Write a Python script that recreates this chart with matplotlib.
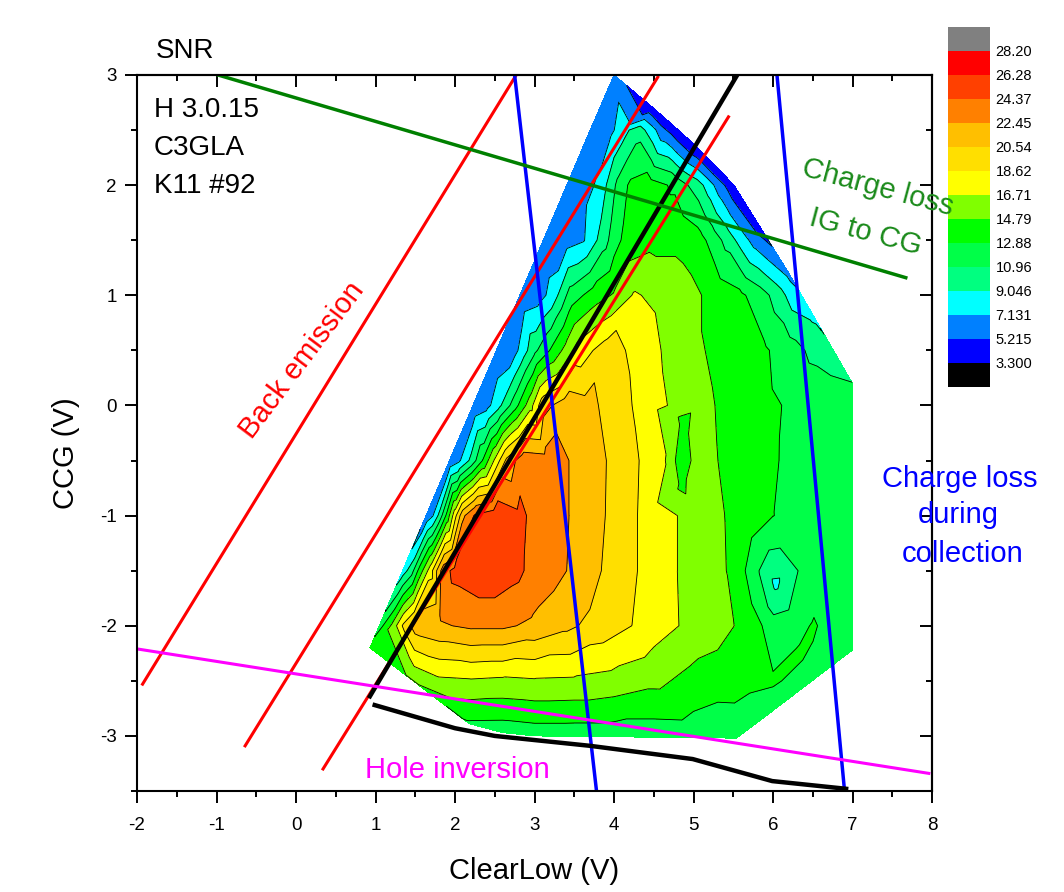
import matplotlib.pyplot as plt
import matplotlib.tri as mtri
from matplotlib.colors import ListedColormap, BoundaryNorm
from matplotlib.ticker import MultipleLocator

plt.rcParams['font.family'] = ['Liberation Sans', 'DejaVu Sans']
plt.rcParams['axes.unicode_minus'] = False

W, H = 1064, 892

# SNR map (CCG fixed per row)
ccg_rows = [2.5, 2.0, 1.5, 1.0, 0.5, 0.0, -0.5, -1.0, -1.5, -2.0, -2.5]
clearlow_rows = [
    [3.70, 3.95, 4.12, 4.30, 4.50, 4.62, 4.72, 4.81],
    [3.41, 3.60, 3.78, 3.90, 4.05, 4.20, 4.45, 4.75, 4.90, 5.05, 5.20, 5.33, 5.43, 5.51],
    [3.11, 3.40, 3.62, 3.75, 3.88, 4.00, 4.15, 4.50, 4.85, 5.10, 5.25, 5.42, 5.60, 5.78, 5.94],
    [2.82, 3.05, 3.22, 3.32, 3.45, 3.75, 4.00, 4.25, 4.60, 4.90, 5.30, 5.60, 5.85, 6.07, 6.25, 6.35],
    [2.52, 2.75, 2.85, 3.00, 3.20, 3.40, 3.55, 3.90, 4.35, 4.75, 5.00, 5.50, 5.90, 6.20, 6.50, 6.75],
    [2.23, 2.40, 2.55, 2.75, 2.95, 3.10, 3.40, 3.65, 4.00, 4.40, 4.80, 5.10, 5.50, 5.90, 6.30, 6.70, 7.00],
    [1.93, 2.05, 2.20, 2.35, 2.50, 2.65, 2.85, 3.15, 3.45, 3.75, 4.10, 4.40, 4.62, 4.83, 5.08, 5.40, 5.80, 6.20, 6.60, 7.00],
    [1.64, 1.72, 1.80, 1.90, 2.00, 2.10, 2.25, 2.50, 2.80, 3.10, 3.45, 3.90, 4.30, 4.80, 5.10, 5.39, 5.70, 6.00, 6.50, 7.00],
    [1.34, 1.45, 1.55, 1.70, 1.85, 2.00, 2.40, 2.75, 2.90, 3.15, 3.45, 3.85, 4.30, 4.80, 5.20, 5.45, 5.62, 5.78, 5.92, 6.15, 6.32, 6.60, 7.00],
    [1.05, 1.20, 1.35, 1.50, 1.80, 2.20, 2.60, 3.00, 3.40, 3.80, 4.23, 4.50, 4.82, 5.15, 5.51, 5.70, 5.86, 6.00, 6.30, 6.50, 6.70, 7.00],
    [1.48, 1.80, 2.20, 2.60, 3.00, 3.50, 4.00, 4.50, 5.00, 5.50, 6.00, 6.45],
]
snr_rows = [
    [5.8, 6.6, 8.3, 10.2, 7.6, 5.6, 4.6, 3.4],
    [5.7, 6.3, 7.3, 9.0, 11.5, 13.2, 13.7, 12.6, 11.2, 10.0, 8.0, 6.0, 4.7, 3.5],
    [5.7, 6.3, 7.0, 8.6, 10.2, 12.0, 13.5, 14.2, 14.2, 13.4, 12.0, 10.3, 8.2, 6.2, 4.9],
    [5.7, 6.3, 7.8, 9.5, 11.8, 13.8, 15.0, 16.9, 16.2, 15.6, 14.0, 13.2, 11.8, 10.0, 8.0, 7.4],
    [5.7, 6.5, 8.0, 10.5, 13.0, 15.5, 17.5, 19.6, 17.8, 16.0, 15.2, 13.8, 13.1, 11.9, 10.5, 10.0],
    [5.7, 6.5, 8.5, 12.0, 16.0, 19.8, 21.6, 21.2, 19.7, 17.8, 16.2, 15.3, 14.1, 13.3, 12.5, 12.1, 11.8],
    [5.7, 6.8, 9.5, 13.0, 17.0, 21.0, 23.6, 23.3, 22.4, 21.2, 19.7, 18.2, 17.1, 13.9, 15.5, 14.5, 13.5, 12.6, 12.3, 12.2],
    [5.8, 7.0, 9.5, 13.5, 18.0, 22.0, 24.6, 25.6, 24.8, 23.5, 22.4, 20.5, 18.6, 16.7, 15.7, 14.8, 13.8, 12.9, 12.3, 12.2],
    [8.0, 10.0, 13.5, 18.0, 23.5, 25.0, 25.9, 25.0, 24.2, 23.3, 22.3, 20.5, 18.6, 16.7, 15.3, 14.7, 13.2, 11.5, 9.8, 9.6, 11.0, 12.2, 12.2],
    [12.0, 15.0, 19.0, 21.5, 22.2, 22.8, 22.8, 22.0, 21.0, 19.8, 18.6, 17.6, 16.7, 15.8, 14.8, 13.8, 12.9, 11.8, 12.4, 13.0, 12.6, 12.3],
    [15.0, 16.3, 16.5, 16.3, 16.5, 16.4, 16.0, 15.3, 14.1, 13.5, 13.1, 12.2],
]

# points off the rows: hull corners, bottom edge, small islands
extra_clearlow = [4.00, 4.48, 5.04, 5.83, 6.20, 6.49, 7.00, 7.00, 0.93,
                  2.18, 2.60, 3.00, 3.50, 4.00, 4.50, 5.00, 5.54, 6.00,
                  4.86, 4.84, 6.03, 6.35]
extra_ccg = [3.00, 2.71, 2.35, 1.62, 1.20, 0.80, 0.20, -2.22, -2.20,
             -2.89, -2.97, -3.00, -3.00, -3.00, -3.00, -3.00, -3.02, -2.77,
             -0.12, -0.74, -1.62, -2.25]
extra_snr = [6.0, 3.6, 3.3, 4.2, 6.6, 8.8, 11.0, 12.3, 13.8,
             12.6, 11.8, 11.8, 11.8, 11.8, 11.8, 11.9, 11.9, 12.0,
             14.4, 14.5, 8.6, 13.1]

levels = [3.300, 5.215, 7.131, 9.046, 10.96, 12.88, 14.79, 16.71,
          18.62, 20.54, 22.45, 24.37, 26.28, 28.20]
level_labels = ['3.300', '5.215', '7.131', '9.046', '10.96', '12.88', '14.79',
                '16.71', '18.62', '20.54', '22.45', '24.37', '26.28', '28.20']
band_colors = ['#0000FF', '#0080FF', '#00FFFF', '#00FF80', '#00FF48', '#00FF00',
               '#80FF00', '#FFFF00', '#FFDF00', '#FFBF00', '#FF8000', '#FF4000',
               '#FF0000']

# guide lines over the map
red_lines = [([-1.93, 2.77], [-2.53, 3.00]),
             ([-0.64, 4.55], [-3.09, 2.98]),
             ([0.34, 5.44], [-3.30, 2.62])]
blue_lines = [([2.75, 3.78], [3.00, -3.50]),
              ([6.05, 6.90], [3.00, -3.50])]
black_line = ([0.93, 5.55], [-2.64, 3.00])
black_low_x = [0.99, 2.00, 2.50, 3.70, 4.99, 5.99, 6.92]
black_low_y = [-2.72, -2.93, -3.00, -3.09, -3.21, -3.41, -3.48]
green_line = ([-0.98, 7.67], [3.00, 1.16])
magenta_line = ([-2.00, 7.96], [-2.21, -3.34])

xs, ys, zs = [], [], []
for yv, xr, zr in zip(ccg_rows, clearlow_rows, snr_rows):
    xs += xr
    ys += [yv] * len(xr)
    zs += zr
xs += extra_clearlow
ys += extra_ccg
zs += extra_snr
tri = mtri.Triangulation(xs, ys)

cmap = ListedColormap(band_colors)
cmap.set_under('#000000')
cmap.set_over('#808080')
norm = BoundaryNorm(levels, cmap.N)

fig = plt.figure(figsize=(W / 100, H / 100), dpi=100)
ax = fig.add_axes([137 / W, 1 - 791 / H, (932 - 137) / W, (791 - 75) / H])

cf = ax.tricontourf(tri, zs, levels=levels, cmap=cmap, norm=norm, extend='both')
ax.tricontour(tri, zs, levels=levels, colors='k', linewidths=0.6)

for lx, ly in red_lines:
    ax.plot(lx, ly, color='#FF0000', lw=2.2)
for lx, ly in blue_lines:
    ax.plot(lx, ly, color='#0000FF', lw=2.5)
ax.plot(*black_line, color='k', lw=3.2)
ax.plot(black_low_x, black_low_y, color='k', lw=3.2)
ax.plot(*green_line, color='#008000', lw=2.5)
ax.plot(*magenta_line, color='#FF00FF', lw=2.2)

ax.set_xlim(-2, 8)
ax.set_ylim(-3.5, 3)
ax.set_xticks(range(-2, 9))
ax.set_yticks(range(-3, 4))
ax.xaxis.set_minor_locator(MultipleLocator(0.5))
ax.yaxis.set_minor_locator(MultipleLocator(0.5))
ax.tick_params(which='both', direction='out', width=1.4, labelsize=13.5)
ax.tick_params(which='major', length=8.5)
ax.tick_params(which='minor', length=4.5)
ax.tick_params(axis='x', pad=10)
ax.tick_params(axis='y', pad=6)
for sp in ax.spines.values():
    sp.set_linewidth(1.5)

top = ax.secondary_xaxis('top')
top.set_xticks(range(-2, 9))
top.xaxis.set_minor_locator(MultipleLocator(0.5))
top.tick_params(which='both', direction='in', width=1.4, labeltop=False)
top.tick_params(which='major', length=8.5)
top.tick_params(which='minor', length=4.5)
right = ax.secondary_yaxis('right')
right.set_yticks(range(-3, 4))
right.yaxis.set_minor_locator(MultipleLocator(0.5))
right.tick_params(which='both', direction='in', width=1.4, labelright=False)
right.tick_params(which='major', length=8.5)
right.tick_params(which='minor', length=4.5)
for sec in (top, right):
    for sp in sec.spines.values():
        sp.set_linewidth(1.5)

ax.set_xlabel('ClearLow (V)', fontsize=21)
ax.xaxis.set_label_coords(0.5, -0.092)
ax.set_ylabel('CCG (V)', fontsize=21)
ax.yaxis.set_label_coords(-0.072, 0.472)

cax = fig.add_axes([948 / W, 1 - 387 / H, 42 / W, 360 / H])
cb = fig.colorbar(cf, cax=cax, extendrect=True, extendfrac=1 / 13, ticks=levels)
cb.set_ticklabels(level_labels)
cb.ax.tick_params(length=0, labelsize=10.5, pad=4)
cb.outline.set_visible(False)


def ftext(px, py, s, **kw):
    fig.text(px / W, 1 - py / H, s, **kw)


ftext(156, 58, 'SNR', fontsize=20, va='baseline')
ftext(154, 117, 'H 3.0.15', fontsize=20, va='baseline')
ftext(154, 155, 'C3GLA', fontsize=20, va='baseline')
ftext(154, 193, 'K11 #92', fontsize=20, va='baseline')
ftext(302, 360, 'Back emission', fontsize=21, color='#FF0000', rotation=53,
      ha='center', va='center', rotation_mode='anchor')
ftext(878, 188, 'Charge loss', fontsize=21, color='#1A8A1A', rotation=-15,
      ha='center', va='center', rotation_mode='anchor')
ftext(866, 232, 'IG to CG', fontsize=21, color='#1A8A1A', rotation=-15,
      ha='center', va='center', rotation_mode='anchor')
ftext(960, 487, 'Charge loss', fontsize=21, color='#0000FF', ha='center', va='baseline')
ftext(958, 523, 'during', fontsize=21, color='#0000FF', ha='center', va='baseline')
ftext(963, 562, 'collection', fontsize=21, color='#0000FF', ha='center', va='baseline')
ftext(365, 778, 'Hole inversion', fontsize=21, color='#FF00FF', va='baseline')

fig.savefig('out.png', dpi=100)
